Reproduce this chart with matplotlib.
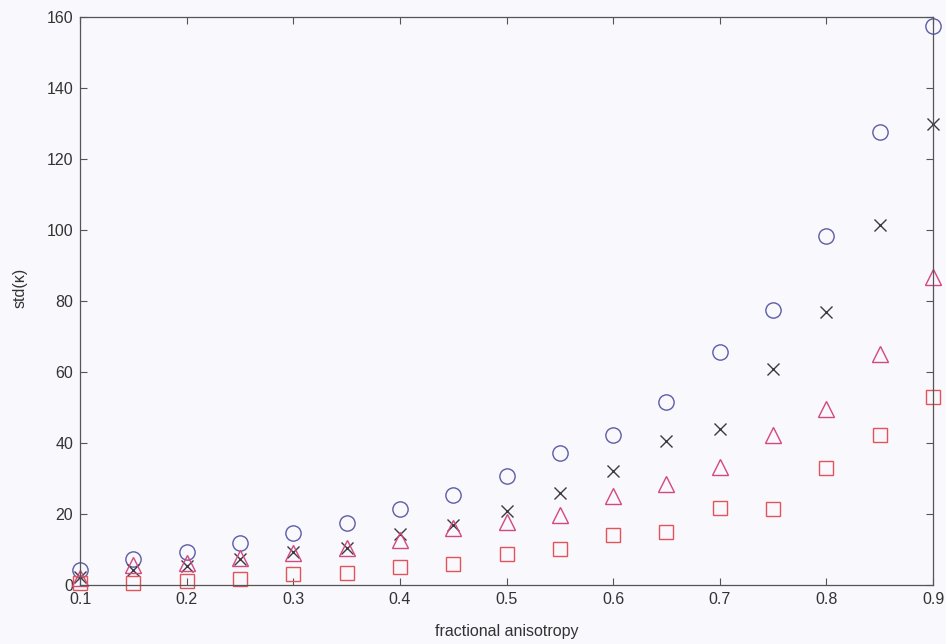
import matplotlib
matplotlib.use("Agg")
import matplotlib.pyplot as plt
import numpy as np

plt.rcParams['font.family'] = ['Liberation Sans', 'DejaVu Sans']

fa = [0.10, 0.15, 0.20, 0.25, 0.30, 0.35, 0.40, 0.45, 0.50,
      0.55, 0.60, 0.65, 0.70, 0.75, 0.80, 0.85, 0.90]
circles = [4.2, 7.3, 9.3, 11.8, 14.6, 17.5, 21.4, 25.4, 30.7,
           37.2, 42.3, 51.5, 65.6, 77.5, 98.3, 127.6, 157.5]
crosses = [2.3, 4.2, 5.4, 7.3, 9.3, 10.4, 14.4, 16.9, 20.8,
           25.9, 32.1, 40.6, 43.9, 60.8, 76.9, 101.4, 129.9]
triangles = [2.0, 5.6, 6.2, 7.6, 9.0, 10.4, 12.7, 16.0, 17.7,
             19.7, 25.0, 28.5, 33.2, 42.3, 49.6, 65.0, 86.8]
squares = [0.6, 0.6, 1.2, 1.6, 3.1, 3.3, 5.0, 5.9, 8.6,
           10.1, 14.1, 14.9, 21.7, 21.4, 33.0, 42.3, 53.0]

xticks = [0.1, 0.2, 0.3, 0.4, 0.5, 0.6, 0.7, 0.8, 0.9]
yticks = [0, 20, 40, 60, 80, 100, 120, 140, 160]

bg = '#f8f8fd'
fig = plt.figure(figsize=(9.46, 6.44), dpi=100, facecolor=bg)
ax = fig.add_axes([0.0846, 0.0916, 0.9017, 0.882])
ax.set_facecolor(bg)

ax.plot(fa, circles, linestyle='none', marker='o', markersize=11,
        markerfacecolor='none', markeredgecolor='#5c5ca8', markeredgewidth=1.0, clip_on=False)
ax.plot(fa, crosses, linestyle='none', marker='x', markersize=8,
        markeredgecolor='#3a3a40', markeredgewidth=1.0, clip_on=False)
ax.plot(fa, triangles, linestyle='none', marker='^', markersize=12,
        markerfacecolor='none', markeredgecolor='#d4487e', markeredgewidth=1.0, clip_on=False)
ax.plot(fa, squares, linestyle='none', marker='s', markersize=9.5,
        markerfacecolor='none', markeredgecolor='#e0545a', markeredgewidth=1.0, clip_on=False)

ax.set_xlim(0.1, 0.9)
ax.set_ylim(0, 160)
ax.set_xticks(xticks)
ax.set_xticklabels([f'{v:g}' for v in xticks])
ax.set_yticks(yticks)
ax.set_yticklabels([str(v) for v in yticks])
ax.tick_params(direction='in', length=5, width=0.8, color='#555555',
               labelsize=11.5, labelcolor='#333333', top=True, right=True, pad=5)
for s in ax.spines.values():
    s.set_color('#555555')
    s.set_linewidth(0.9)

ax.set_xlabel('fractional anisotropy', fontsize=11.5, color='#333333', labelpad=12)
ax.set_ylabel('std(κ)', fontsize=11.5, color='#333333')
ax.yaxis.set_label_coords(-0.061, 0.523)

fig.savefig('out.png', dpi=100, facecolor=bg)
